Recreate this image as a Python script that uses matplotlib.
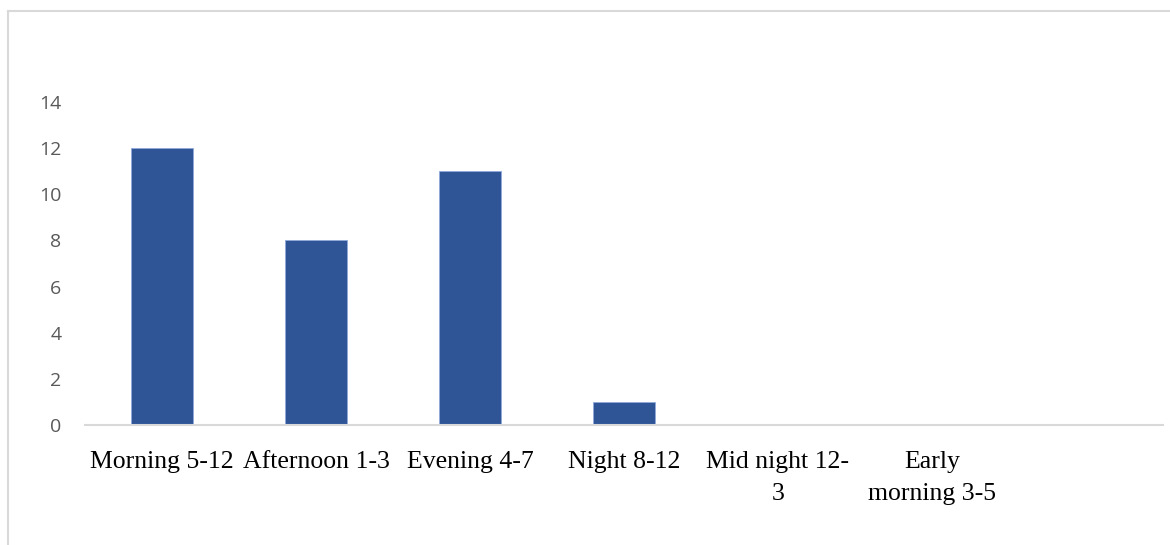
import matplotlib
matplotlib.use("Agg")
import matplotlib.pyplot as plt
from matplotlib.lines import Line2D

categories = ["Morning 5-12", "Afternoon 1-3", "Evening 4-7", "Night 8-12",
              "Mid night 12-\n3", "Early\nmorning 3-5"]
counts = [12, 8, 11, 1, 0, 0]
yticks = [0, 2, 4, 6, 8, 10, 12, 14]
n_slots = 7

W, H = 1170, 545
fig = plt.figure(figsize=(W / 100, H / 100), dpi=100)
ax = fig.add_axes([85 / W, (H - 425) / H, (1163 - 85) / W, (425 - 102) / H])

x = list(range(len(categories)))
ax.bar(x, counts, width=0.4, color="#2F5597", edgecolor="#8FAADC", linewidth=0.6, zorder=2)

ax.set_xlim(-0.5, n_slots - 0.5)
ax.set_ylim(0, 14)
ax.set_yticks(yticks)
ax.set_yticklabels([str(v) for v in yticks], fontfamily="Open Sans",
                   fontsize=14, color="#595959")
ax.tick_params(axis="y", length=0, pad=17)
ax.set_xticks(x)
ax.set_xticklabels(categories, fontfamily="Liberation Serif", fontsize=18.5,
                   color="black", linespacing=1.58, va="top")
ax.tick_params(axis="x", length=0, pad=19)

for side in ["top", "right", "left"]:
    ax.spines[side].set_visible(False)
ax.spines["bottom"].set_color("#D9D9D9")
ax.spines["bottom"].set_linewidth(1.5)

# light outer frame of the chart area
fig.add_artist(Line2D([7.5 / W, 7.5 / W], [0, 1 - 11 / H], color="#D9D9D9", lw=1.5))
fig.add_artist(Line2D([7.5 / W, 1], [1 - 11 / H, 1 - 11 / H], color="#D9D9D9", lw=1.5))

fig.savefig("out.png", dpi=100, facecolor="white")
